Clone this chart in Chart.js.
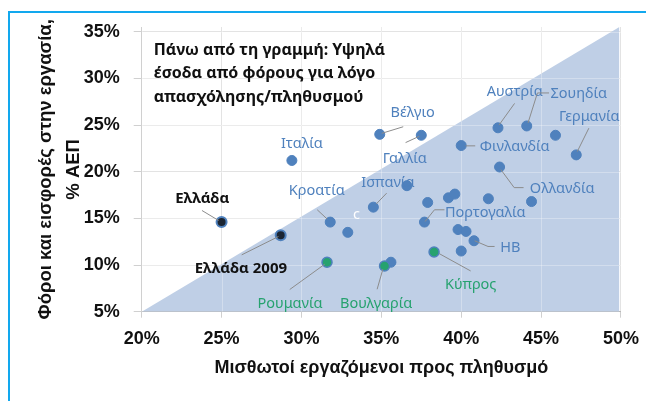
<!DOCTYPE html>
<html>
<head>
<meta charset="utf-8">
<script src="https://cdn.jsdelivr.net/npm/chart.js@4.4.1/dist/chart.umd.min.js"></script>
<style>
html,body{margin:0;padding:0;background:#fff;}
#wrap{position:relative;width:650px;height:401px;}
#frame{position:absolute;left:8px;top:11px;width:638px;height:390px;border-left:2px solid #12a8ee;border-top:2px solid #12a8ee;box-sizing:border-box;pointer-events:none;}
canvas{position:absolute;left:0;top:0;}
</style>
</head>
<body>
<div id="wrap"><canvas id="c" width="650" height="401"></canvas><div id="frame"></div></div>
<script>
// ---- data ----
const blueNames = ['Ιταλία','Βέλγιο','Γαλλία','Αυστρία','Σουηδία','','Γερμανία','Φινλανδία','Ολλανδία','','Ισπανία','Κροατία','c','','','','','','Πορτογαλία','','','ΗΒ','',''];
const blueX = [29.4,34.9,37.5,42.3,44.1,45.9,47.2,40.0,42.4,36.6,34.5,31.8,32.9,37.9,39.2,39.6,41.7,44.4,37.7,39.8,40.3,40.8,40.0,35.6];
const blueY = [21.2,24.0,23.9,24.7,24.9,23.9,21.8,22.8,20.5,18.5,16.2,14.6,13.5,16.7,17.2,17.6,17.1,16.8,14.6,13.8,13.6,12.6,11.5,10.3];
const greenNames = ['Ρουμανία','Βουλγαρία','Κύπρος'];
const greenX = [31.6,35.2,38.3];
const greenY = [10.3,9.9,11.4];
const greeceNames = ['Ελλάδα','Ελλάδα 2009'];
const greeceX = [25.0,28.7];
const greeceY = [14.6,13.2];
const areaX = [20,49.9,49.9];
const areaY = [5,35.5,5];
const xTicks = [20,25,30,35,40,45,50];
const yTicks = [5,10,15,20,25,30,35];
const xTitle = 'Μισθωτοί εργαζόμενοι προς πληθυσμό';
const yTitle = ['Φόροι και εισφορές στην εργασία,','% ΑΕΠ'];
const noteLines = ['Πάνω από τη γραμμή: Υψηλά','έσοδα από φόρους για λόγο','απασχόλησης/πληθυσμού'];

// ---- label layout (pixel offsets from the point) ----
const labelLayout = {
  'Ιταλία':{dx:10,dy:-17,lead:null},
  'Βέλγιο':{dx:33,dy:-21.6,lead:[[2,-1],[23.5,-7.6]]},
  'Γαλλία':{dx:-16.5,dy:23.6,lead:[[-15.7,7.3],[-2,1]]},
  'Αυστρία':{dx:16.8,dy:-36,lead:[[16.6,-24.4],[1,-2.7]]},
  'Σουηδία':{dx:52,dy:-32.3,lead:[[22.3,-33],[10.7,-33],[1.3,-3]]},
  'Γερμανία':{dx:13,dy:-38.3,lead:[[12.6,-26.7],[1,-3.3]]},
  'Φινλανδία':{dx:53.5,dy:1.3,lead:[[14,0.3],[4.3,0.3]]},
  'Ολλανδία':{dx:62.6,dy:21.6,lead:[[24,20.6],[14.6,20.6],[1.3,2.6]]},
  'Ισπανία':{dx:14.5,dy:-24.6,lead:[[13.3,-14],[3,-3.3]]},
  'Κροατία':{dx:-13.5,dy:-31.3,lead:[[-13,-12.3],[-3,-3]]},
  'c':{dx:8.7,dy:-17,lead:null,color:'#ffffff'},
  'Πορτογαλία':{dx:60.8,dy:-9.6,lead:[[20,-12.3],[10,-12.3],[0.6,-0.6]]},
  'ΗΒ':{dx:36.3,dy:7.3,lead:[[20.6,5.7],[14,5.7],[0.6,0]]},
  'Ρουμανία':{dx:-37,dy:42,lead:[[-37.3,27.3],[-2.3,2]]},
  'Βουλγαρία':{dx:-8.4,dy:38,lead:[[-7.4,23.3],[-1.7,3.3]]},
  'Κύπρος':{dx:36.6,dy:33.3,lead:[[36.6,19],[5,1.6]]},
  'Ελλάδα':{dx:-19.3,dy:-23,lead:[[-19.6,-11.6],[-3,-1.6]]},
  'Ελλάδα 2009':{dx:-39.8,dy:33.7,lead:[[-39,19.7],[-2.3,1.4]]}
};

const BLUE = '#4f81bd';
const GREEN = '#26a26f';
const AXISFONT = "'Liberation Sans',Arial,sans-serif";
const LBLFONT = "'Noto Sans','DejaVu Sans',sans-serif";

function pts(xs, ys){ return xs.map((x,i)=>({x:x,y:ys[i]})); }

// light grid lines shown over the shaded area
const gridOverArea = {
  id:'gridOverArea',
  afterDatasetDraw(chart, args){
    if(args.index !== 0) return;
    const ctx = chart.ctx, ca = chart.chartArea;
    const xs = chart.scales.x, ys = chart.scales.y;
    ctx.save();
    ctx.beginPath(); ctx.rect(ca.left, ca.top, ca.right-ca.left, ca.bottom-ca.top); ctx.clip();
    ctx.strokeStyle = 'rgba(255,255,255,0.3)';
    ctx.lineWidth = 1;
    ctx.beginPath();
    xTicks.forEach(v=>{ const px = Math.round(xs.getPixelForValue(v))+0.5; ctx.moveTo(px, ca.top); ctx.lineTo(px, ca.bottom); });
    yTicks.forEach(v=>{ if(v===yTicks[0]) return; const py = Math.round(ys.getPixelForValue(v))+0.5; ctx.moveTo(ca.left, py); ctx.lineTo(ca.right, py); });
    ctx.stroke();
    ctx.restore();
  }
};

const labelPlugin = {
  id:'labels',
  afterDatasetsDraw(chart){
    const ctx = chart.ctx;
    const ca = chart.chartArea;
    ctx.save();
    // note
    ctx.fillStyle = '#111';
    ctx.font = "bold 16px " + LBLFONT;
    ctx.textAlign = 'left';
    ctx.textBaseline = 'middle';
    noteLines.forEach((t,i)=>ctx.fillText(t, ca.left + 12, ca.top + 23 + i*23.7));
    const groups = [
      {ds:1, names:blueNames, color:BLUE, font:"14.5px "+LBLFONT},
      {ds:2, names:greenNames, color:GREEN, font:"14.5px "+LBLFONT},
      {ds:3, names:greeceNames, color:'#111', font:"bold 15px "+LBLFONT}
    ];
    groups.forEach(g=>{
      const meta = chart.getDatasetMeta(g.ds);
      g.names.forEach((n,i)=>{
        const L = labelLayout[n];
        if(!n || !L) return;
        const p = meta.data[i];
        if(L.lead){
          ctx.strokeStyle = '#8c8c8c';
          ctx.lineWidth = 1;
          ctx.beginPath();
          L.lead.forEach((o,k)=>{ if(k===0) ctx.moveTo(p.x+o[0],p.y+o[1]); else ctx.lineTo(p.x+o[0],p.y+o[1]); });
          ctx.stroke();
        }
        ctx.fillStyle = L.color || g.color;
        ctx.font = g.font;
        ctx.textAlign = 'center';
        ctx.textBaseline = 'middle';
        ctx.fillText(n, p.x + L.dx, p.y + L.dy);
      });
    });
    ctx.restore();
  }
};

new Chart(document.getElementById('c'), {
  type:'scatter',
  data:{
    datasets:[
      {type:'line', data:pts(areaX, areaY), borderWidth:0, borderColor:'rgba(0,0,0,0)', backgroundColor:'#bfcfe6', fill:'origin', pointRadius:0, tension:0, order:10},
      {data:pts(blueX, blueY), backgroundColor:BLUE, borderColor:BLUE, pointRadius:5, borderWidth:1, order:3},
      {data:pts(greenX, greenY), backgroundColor:GREEN, borderColor:BLUE, pointRadius:5, borderWidth:1.5, order:2},
      {data:pts(greeceX, greeceY), backgroundColor:'#1b2533', borderColor:BLUE, pointRadius:5, borderWidth:2, order:1}
    ]
  },
  options:{
    responsive:false,
    animation:false,
    events:[],
    layout:{padding:{left:10,right:24.4,top:27,bottom:0}},
    plugins:{legend:{display:false}, tooltip:{enabled:false}},
    scales:{
      x:{
        type:'linear', min:20, max:50,
        afterBuildTicks(s){ s.ticks = xTicks.map(v=>({value:v})); },
        afterFit(s){ s.height = 89.3; },
        grid:{color:'#e3e3e3', tickLength:6, tickColor:'#d0d0d0'},
        border:{color:'#b8b8b8', width:1},
        ticks:{padding:11, color:'#111', font:{family:AXISFONT, size:18, weight:'bold'}, callback:v=>v+'%', maxRotation:0},
        title:{display:true, text:xTitle, color:'#111', padding:{top:0,bottom:22}, font:{family:AXISFONT, size:18, weight:'bold', lineHeight:1.2}}
      },
      y:{
        type:'linear', min:5, max:35.5,
        afterBuildTicks(s){ s.ticks = yTicks.map(v=>({value:v})); },
        afterFit(s){ s.width = 131.7; },
        grid:{color:'#e3e3e3', tickLength:8, tickColor:'#d0d0d0'},
        border:{color:'#d0d0d0', width:1},
        ticks:{padding:14, color:'#111', font:{family:AXISFONT, size:18, weight:'bold'}, callback:v=>v+'%'},
        title:{display:true, text:yTitle, color:'#111', padding:{top:22,bottom:0}, font:{family:AXISFONT, size:18.5, weight:'bold', lineHeight:1.5}}
      }
    }
  },
  plugins:[gridOverArea, labelPlugin]
});
</script>
</body>
</html>
